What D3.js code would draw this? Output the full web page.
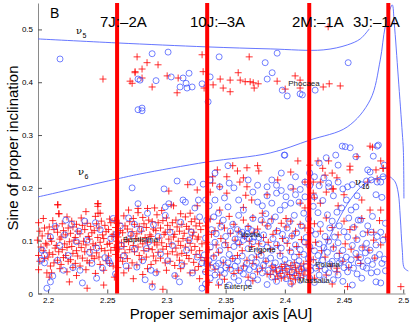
<!DOCTYPE html>
<html>
<head>
<meta charset="utf-8">
<script src="https://cdn.jsdelivr.net/npm/d3@7"></script>
<style>
  body { margin: 0; background: #fff; }
  svg { display: block; font-family: "Liberation Sans", Arial, sans-serif; }
</style>
</head>
<body>
<script>
// tick values
let xTicks = [2.2, 2.25, 2.3, 2.35, 2.4, 2.45, 2.5];
let yTicks = [0, 0.1, 0.2, 0.3, 0.4, 0.5];

// mean motion resonances (proper a in AU)
let resonanceNames = ["7J:\u20132A", "10J:\u20133A", "2M:\u20131A", "3J:\u20131A"];
let resonanceA = [2.2583, 2.3344, 2.4206, 2.4874];
let resonanceLabelA = [2.2439, 2.3199, 2.4060, 2.4576];

// secular resonances, [a, sin i]
let nu5 = [[2.1915,.482],[2.2583,.4744],[2.3344,.4669],[2.3876,.4631],[2.4324,.4612],[2.4527,.4706],[2.4637,.482],[2.4713,.501]];
let nu6 = [[2.1915,.1828],[2.2583,.2169],[2.2777,.2263],[2.3344,.2491],[2.3876,.2661],[2.4214,.2907],[2.4527,.3153],[2.4721,.3665],[2.4806,.4422],[2.4848,.5047],[2.4907,.5464],[2.4924,.5123],[2.4958,.41],[2.4992,.304],[2.5001,.2718],[2.5006,.18]];
let nu16 = [[2.4282,.0597],[2.4442,.1354],[2.4552,.1771],[2.4662,.2055],[2.478,.2188],[2.4865,.2225],[2.489,.2206],[2.4932,.2112],[2.4958,.1903],[2.4975,.1449],[2.4992,.0824],[2.5009,.0483],[2.5043,.0426]];
let nuNames = ["5", "6", "16"];
let nuLabelA = [2.2236, 2.2253, 2.4593];
let nuLabelS = [.4915, .2244, .2055];

// asteroid families
let familyNames = ["Phocaea", "Vesta", "Erigone", "Baptistina", "Euterpe", "Polana", "Massalia"];
let familyA = [2.4028, 2.3623, 2.369, 2.2634, 2.3487, 2.4256, 2.4113];
let familyS = [.393, .107, .0786, .0975, .0085, .0502, .0199];

// red crosses [a, sin i]
let redCross = [
[2.192,.134],[2.193,.118],[2.191,.101],[2.194,.088],[2.192,.072],[2.193,.061],[2.192,.045],
[2.196,.142],[2.197,.124],[2.195,.109],[2.198,.095],[2.196,.081],[2.197,.066],[2.199,.039],
[2.201,.126],[2.200,.113],[2.202,.104],[2.199,.092],[2.201,.077],[2.200,.069],[2.202,.052],[2.201,.031],
[2.204,.138],[2.205,.121],[2.203,.099],[2.206,.086],[2.204,.074],[2.205,.058],[2.203,.039],
[2.209,.151],[2.207,.128],[2.208,.116],[2.210,.103],[2.207,.091],[2.209,.079],[2.208,.063],[2.210,.047],[2.208,.168],
[2.212,.132],[2.213,.119],[2.211,.107],[2.214,.094],[2.212,.083],[2.213,.068],[2.211,.055],[2.218,.022],
[2.216,.145],[2.217,.124],[2.215,.111],[2.218,.098],[2.216,.087],[2.215,.072],[2.217,.061],[2.216,.041],
[2.220,.137],[2.221,.126],[2.219,.114],[2.222,.101],[2.220,.089],[2.221,.076],[2.219,.064],[2.221,.049],
[2.224,.131],[2.225,.118],[2.223,.106],[2.226,.095],[2.224,.081],[2.225,.071],[2.223,.057],[2.224,.034],
[2.228,.143],[2.229,.129],[2.227,.113],[2.230,.099],[2.228,.087],[2.229,.067],[2.227,.052],[2.233,.010],
[2.232,.155],[2.233,.133],[2.231,.121],[2.234,.108],[2.232,.092],[2.231,.079],[2.233,.062],[2.232,.045],
[2.236,.127],[2.237,.115],[2.235,.103],[2.238,.094],[2.236,.083],[2.237,.071],[2.235,.058],
[2.240,.146],[2.241,.132],[2.239,.119],[2.242,.106],[2.240,.091],[2.241,.077],[2.239,.066],[2.240,.038],
[2.244,.152],[2.245,.137],[2.243,.124],[2.246,.111],[2.244,.097],[2.245,.085],[2.243,.069],[2.244,.055],[2.242,.170],[2.242,.165],
[2.248,.129],[2.249,.117],[2.247,.104],[2.250,.093],[2.248,.081],[2.249,.062],[2.247,.044],[2.247,.016],
[2.252,.141],[2.253,.134],[2.251,.121],[2.254,.108],[2.252,.095],[2.253,.082],[2.251,.071],[2.252,.057],
[2.256,.138],[2.257,.125],[2.255,.112],[2.258,.099],[2.256,.087],[2.257,.074],[2.255,.052],[2.256,.031],
[2.260,.133],[2.261,.119],[2.259,.107],[2.262,.096],[2.260,.084],[2.261,.068],[2.259,.049],
[2.264,.147],[2.265,.128],[2.263,.115],[2.266,.102],[2.264,.089],[2.265,.077],[2.263,.061],[2.264,.039],
[2.268,.158],[2.269,.136],[2.267,.122],[2.270,.109],[2.268,.098],[2.269,.083],[2.267,.066],[2.268,.048],
[2.272,.142],[2.273,.131],[2.271,.117],[2.274,.104],[2.272,.091],[2.273,.079],[2.271,.058],[2.272,.028],
[2.276,.153],[2.277,.127],[2.275,.113],[2.278,.101],[2.276,.088],[2.277,.072],[2.275,.054],[2.276,.161],
[2.280,.144],[2.281,.132],[2.279,.118],[2.282,.106],[2.280,.094],[2.281,.081],[2.279,.064],[2.280,.036],
[2.284,.161],[2.285,.139],[2.283,.125],[2.286,.111],[2.284,.097],[2.285,.085],[2.283,.069],[2.284,.047],
[2.288,.136],[2.289,.122],[2.287,.108],[2.290,.096],[2.288,.083],[2.289,.071],[2.287,.055],[2.288,.018],
[2.292,.149],[2.293,.134],[2.291,.119],[2.294,.105],[2.292,.092],[2.293,.078],[2.291,.062],[2.292,.041],
[2.296,.157],[2.297,.138],[2.295,.124],[2.298,.112],[2.296,.096],[2.297,.084],[2.295,.067],[2.297,.008],
[2.300,.143],[2.301,.129],[2.299,.116],[2.302,.103],[2.300,.089],[2.301,.075],[2.299,.058],[2.300,.044],
[2.304,.168],[2.305,.134],[2.303,.121],[2.306,.107],[2.304,.094],[2.305,.079],[2.303,.061],
[2.308,.139],[2.309,.126],[2.307,.112],[2.310,.099],[2.308,.086],[2.309,.073],[2.307,.053],[2.308,.033],
[2.312,.151],[2.313,.131],[2.311,.118],[2.314,.104],[2.312,.091],[2.313,.076],[2.311,.063],[2.312,.047],
[2.316,.145],[2.317,.127],[2.315,.114],[2.318,.101],[2.316,.088],[2.317,.072],[2.315,.056],
[2.320,.152],[2.321,.136],[2.319,.122],[2.322,.109],[2.320,.095],[2.321,.082],[2.319,.066],[2.320,.039],
[2.324,.141],[2.325,.128],[2.323,.116],[2.326,.103],[2.324,.089],[2.325,.074],[2.323,.059],[2.324,.044],
[2.328,.133],[2.329,.121],[2.327,.107],[2.330,.094],[2.328,.081],[2.329,.068],[2.327,.051],[2.328,.028],
[2.333,.128],[2.334,.097],[2.332,.062],[2.333,.041],
[2.337,.141],[2.338,.112],[2.336,.083],[2.337,.054],[2.336,.021],
[2.341,.119],[2.342,.092],[2.340,.071],[2.341,.046],
[2.345,.133],[2.346,.104],[2.344,.078],[2.345,.035],[2.345,.158],
[2.349,.124],[2.350,.096],[2.348,.058],[2.349,.027],
[2.353,.146],[2.354,.114],[2.352,.087],[2.353,.049],
[2.357,.131],[2.358,.101],[2.356,.066],[2.357,.038],[2.344,.016],
[2.361,.118],[2.362,.093],[2.360,.072],[2.361,.044],
[2.365,.139],[2.366,.108],[2.364,.081],[2.365,.052],[2.365,.163],
[2.369,.127],[2.370,.099],[2.368,.063],[2.369,.031],
[2.373,.144],[2.374,.116],[2.372,.089],[2.373,.057],[2.373,.024],
[2.377,.122],[2.378,.094],[2.376,.069],[2.377,.041],
[2.381,.135],[2.382,.106],[2.380,.078],[2.381,.048],[2.381,.152],
[2.385,.128],[2.386,.097],[2.384,.061],[2.385,.037],
[2.389,.141],[2.390,.112],[2.388,.084],[2.389,.052],[2.390,.043],[2.388,.036],
[2.393,.119],[2.394,.091],[2.392,.049],[2.393,.041],[2.394,.033],[2.392,.027],
[2.397,.133],[2.398,.104],[2.396,.076],[2.397,.051],[2.398,.044],[2.396,.038],[2.397,.029],
[2.401,.126],[2.402,.095],[2.400,.055],[2.401,.047],[2.402,.039],[2.400,.031],[2.401,.142],
[2.405,.137],[2.406,.109],[2.404,.082],[2.405,.053],[2.406,.045],[2.404,.036],[2.405,.028],[2.406,.018],
[2.409,.118],[2.410,.089],[2.408,.058],[2.409,.049],[2.410,.041],[2.408,.034],[2.409,.026],
[2.413,.131],[2.414,.102],[2.412,.074],[2.413,.052],[2.414,.046],[2.412,.038],[2.413,.030],
[2.417,.124],[2.418,.093],[2.416,.056],[2.417,.043],[2.416,.035],[2.417,.162],
[2.421,.115],[2.422,.085],[2.420,.061],[2.421,.048],
[2.425,.132],[2.426,.097],[2.424,.064],[2.425,.029],[2.425,.181],
[2.430,.118],[2.431,.081],[2.429,.047],[2.430,.211],[2.430,.171],
[2.435,.143],[2.436,.102],[2.434,.069],[2.435,.035],[2.435,.192],
[2.440,.125],[2.441,.088],[2.439,.052],[2.440,.018],[2.440,.228],[2.440,.198],
[2.445,.111],[2.446,.076],[2.444,.041],[2.445,.166],
[2.450,.137],[2.451,.094],[2.449,.061],[2.453,.013],[2.450,.187],
[2.455,.121],[2.456,.084],[2.454,.049],[2.455,.234],[2.455,.241],
[2.460,.105],[2.461,.069],[2.459,.126],
[2.465,.142],[2.466,.088],[2.464,.057],[2.465,.177],
[2.470,.116],[2.471,.082],[2.472,.158],[2.470,.211],
[2.475,.101],[2.476,.067],[2.475,.116],[2.477,.234],
[2.480,.138],[2.481,.158],[2.481,.092],[2.481,.251],
[2.485,.107],[2.483,.237],[2.498,.013],
[2.318,.206],[2.326,.196],[2.326,.166],[2.302,.194],[2.306,.166],[2.290,.162],[2.337,.192],[2.339,.209],
[2.339,.221],[2.343,.234],[2.345,.202],[2.351,.221],[2.351,.190],[2.356,.242],[2.360,.232],[2.362,.211],
[2.365,.219],[2.367,.186],[2.368,.238],[2.368,.202],[2.372,.177],[2.377,.242],[2.378,.232],[2.385,.187],
[2.394,.215],[2.405,.230],[2.407,.198],[2.411,.251],[2.413,.171],[2.417,.211],[2.421,.243],[2.424,.190],
[2.424,.211],[2.428,.251],[2.432,.237],[2.434,.224],[2.437,.251],[2.441,.198],[2.444,.219],[2.461,.259],
[2.474,.277],[2.478,.217],[2.483,.237],[2.462,.069],[2.444,.048],[2.472,.279],[2.2093,.151],[2.2422,.152],
[2.2084,.168],[2.2422,.170],
[2.2464,.406],[2.2693,.402],[2.2710,.398],[2.2735,.418],[2.2752,.448],[2.2836,.437],[2.2929,.433],[2.2735,.42],
[2.2794,.425],[2.2794,.408],[2.2879,.391],[2.3006,.412],[2.3099,.408],[2.309,.38],[2.3301,.452],[2.331,.42],
[2.3318,.389],[2.3394,.395],[2.3454,.406],[2.3479,.389],[2.3538,.404],[2.3538,.382],[2.3606,.418],[2.3623,.404],
[2.3665,.401],[2.3707,.401],[2.3733,.399],[2.3699,.448],[2.3775,.397],[2.3741,.389],[2.4366,.505],[2.3935,.402],
[2.4087,.412],[2.4129,.404],[2.4003,.387],[2.4129,.389],[2.4324,.391],[2.4375,.397],[2.4468,.393]
];

// blue circles [a, sin i]
let blueCircle = [
[2.195,.082],[2.194,.063],[2.197,.058],[2.199,.010],[2.197,.073],[2.202,.107],[2.202,.022],[2.204,.033],
[2.206,.127],[2.208,.063],[2.210,.091],[2.214,.111],[2.213,.044],[2.217,.072],[2.220,.131],[2.221,.049],
[2.224,.098],[2.227,.044],[2.229,.020],[2.231,.137],[2.233,.101],[2.235,.078],[2.237,.057],[2.240,.134],
[2.241,.086],[2.241,.029],[2.244,.121],[2.246,.048],[2.248,.068],[2.251,.063],[2.252,.058],[2.253,.104],
[2.255,.142],[2.257,.037],[2.261,.128],[2.262,.091],[2.264,.071],[2.266,.052],[2.268,.143],[2.270,.112],
[2.271,.200],[2.273,.084],[2.275,.050],[2.276,.170],[2.278,.121],[2.280,.062],[2.282,.026],[2.284,.152],
[2.285,.098],[2.287,.044],[2.289,.130],[2.288,.012],[2.291,.039],[2.293,.108],[2.295,.075],[2.298,.198],
[2.299,.148],[2.299,.164],[2.301,.062],[2.303,.116],[2.302,.170],[2.305,.091],[2.307,.034],[2.309,.213],
[2.311,.022],[2.312,.135],[2.313,.054],[2.314,.177],[2.316,.173],[2.317,.082],[2.319,.101],[2.321,.116],
[2.322,.039],[2.322,.211],[2.324,.162],[2.326,.069],[2.327,.177],[2.328,.145],[2.330,.058],[2.330,.010],
[2.331,.207],[2.273,.131],[2.258,.113],[2.226,.118],[2.215,.139],[2.283,.085],
[2.333,.018],[2.333,.041],[2.334,.056],[2.332,.073],[2.333,.105],[2.334,.139],[2.333,.177],
[2.337,.029],[2.338,.048],[2.336,.062],[2.337,.088],[2.338,.121],[2.336,.166],[2.337,.215],
[2.341,.035],[2.342,.052],[2.340,.068],[2.341,.097],[2.342,.113],[2.340,.145],[2.341,.177],[2.341,.228],
[2.345,.022],[2.346,.044],[2.344,.057],[2.345,.081],[2.346,.126],[2.344,.152],[2.345,.202],
[2.349,.038],[2.350,.049],[2.348,.064],[2.349,.092],[2.350,.108],[2.348,.139],[2.349,.181],
[2.353,.016],[2.354,.046],[2.352,.058],[2.353,.074],[2.354,.118],[2.352,.164],[2.353,.209],[2.352,.242],
[2.357,.031],[2.358,.052],[2.356,.066],[2.357,.089],[2.358,.103],[2.356,.131],[2.357,.200],
[2.361,.024],[2.362,.043],[2.360,.061],[2.361,.096],[2.362,.112],[2.360,.121],[2.361,.148],[2.361,.177],
[2.365,.037],[2.366,.049],[2.364,.071],[2.365,.101],[2.366,.109],[2.364,.116],[2.365,.158],
[2.369,.020],[2.370,.045],[2.368,.057],[2.369,.085],[2.370,.104],[2.368,.113],[2.369,.124],[2.369,.215],
[2.373,.033],[2.374,.051],[2.372,.068],[2.373,.098],[2.374,.107],[2.372,.119],[2.373,.142],[2.373,.192],
[2.377,.026],[2.378,.047],[2.376,.059],[2.377,.079],[2.378,.106],[2.376,.115],[2.377,.205],[2.377,.173],
[2.381,.039],[2.382,.054],[2.380,.072],[2.381,.094],[2.382,.111],[2.380,.139],[2.381,.166],
[2.385,.017],[2.386,.044],[2.384,.062],[2.385,.088],[2.386,.127],[2.384,.151],[2.385,.202],[2.385,.185],
[2.389,.031],[2.390,.050],[2.388,.067],[2.389,.082],[2.390,.104],[2.388,.137],[2.389,.171],[2.389,.215],
[2.393,.023],[2.394,.043],[2.392,.058],[2.393,.093],[2.394,.118],[2.392,.145],[2.393,.190],[2.393,.205],
[2.397,.036],[2.398,.052],[2.396,.071],[2.397,.086],[2.398,.112],[2.396,.158],[2.397,.228],[2.397,.195],
[2.401,.028],[2.402,.046],[2.400,.064],[2.401,.101],[2.402,.124],[2.400,.167],[2.401,.183],[2.400,.262],
[2.405,.019],[2.406,.041],[2.404,.057],[2.405,.079],[2.406,.109],[2.404,.136],[2.405,.201],[2.405,.171],
[2.409,.034],[2.410,.053],[2.408,.069],[2.409,.092],[2.410,.115],[2.408,.148],[2.409,.187],[2.409,.221],
[2.413,.025],[2.414,.047],[2.412,.062],[2.413,.083],[2.414,.128],[2.412,.173],[2.413,.197],
[2.417,.038],[2.418,.051],[2.416,.074],[2.417,.097],[2.418,.106],[2.416,.152],[2.417,.183],[2.417,.211],
[2.421,.029],[2.422,.044],[2.420,.066],[2.421,.089],[2.422,.119],[2.420,.141],[2.421,.204],[2.421,.228],
[2.425,.021],[2.426,.048],[2.424,.059],[2.425,.081],[2.426,.112],[2.424,.165],[2.425,.183],[2.425,.221],
[2.429,.035],[2.430,.053],[2.428,.072],[2.429,.094],[2.430,.131],[2.428,.153],[2.429,.204],[2.429,.247],
[2.433,.026],[2.434,.045],[2.432,.063],[2.433,.087],[2.434,.108],[2.432,.176],[2.433,.219],[2.435,.257],
[2.437,.039],[2.438,.056],[2.436,.078],[2.437,.099],[2.438,.124],[2.436,.149],[2.437,.202],[2.437,.209],
[2.441,.026],[2.442,.047],[2.440,.061],[2.441,.085],[2.442,.107],[2.440,.137],[2.441,.185],[2.443,.262],
[2.445,.035],[2.446,.058],[2.444,.071],[2.445,.096],[2.446,.128],[2.444,.154],[2.445,.211],[2.445,.243],
[2.449,.023],[2.450,.049],[2.448,.063],[2.449,.082],[2.450,.117],[2.448,.162],[2.449,.198],[2.4485,.279],
[2.453,.041],[2.454,.054],[2.452,.069],[2.453,.107],[2.454,.143],[2.452,.177],[2.453,.202],[2.451,.278],
[2.457,.016],[2.458,.048],[2.456,.064],[2.457,.091],[2.458,.125],[2.456,.158],[2.457,.206],[2.4552,.276],
[2.461,.037],[2.462,.058],[2.460,.076],[2.461,.102],[2.462,.139],[2.460,.164],[2.461,.185],[2.460,.259],
[2.465,.029],[2.466,.051],[2.464,.068],[2.465,.086],[2.466,.113],[2.464,.139],[2.465,.206],
[2.469,.048],[2.470,.062],[2.468,.077],[2.469,.095],[2.470,.128],[2.469,.213],[2.470,.234],
[2.473,.039],[2.474,.055],[2.472,.082],[2.473,.116],[2.474,.146],[2.473,.215],[2.472,.230],[2.4747,.260],
[2.477,.022],[2.478,.041],[2.476,.068],[2.477,.092],[2.478,.108],[2.477,.187],[2.478,.211],[2.478,.279],
[2.481,.020],[2.482,.057],[2.480,.074],[2.481,.116],[2.482,.182],[2.481,.211],[2.484,.243],
[2.485,.043],[2.484,.065],[2.483,.101],[2.485,.133],[2.483,.221],
[2.2101,.444],[2.276,.406],[2.2879,.454],[2.3014,.457],[2.2777,.404],[2.2912,.403],[2.304,.41],[2.314,.408],
[2.3191,.417],[2.3166,.398],[2.3115,.391],[2.3174,.389],[2.3217,.391],[2.3301,.397],[2.3369,.41],[2.3445,.448],
[2.3352,.363],[2.3834,.437],[2.3851,.406],[2.2794,.351],[2.3935,.455],[2.4535,.437],[2.3893,.418],[2.3978,.385],
[2.402,.374],[2.4129,.378],[2.4148,.376],[2.4256,.385],[2.479,.281],[2.276,.348],[2.2794,.346],[2.3995,.262]
];

let svgWidth = 415;
let svgHeight = 324;

let svg = d3.select("body")
  .append("svg")
  .attr("width", svgWidth)
  .attr("height", svgHeight);

let x = d3.scaleLinear().domain([2.1915, 2.5015]).range([38, 405]);
let y = d3.scaleLinear().domain([0, 0.55]).range([293.5, 3]);

// axes, MATLAB style inward ticks
let xAxis = d3.axisBottom(x).tickValues(xTicks).tickFormat(d => String(d))
  .tickSize(-4).tickSizeOuter(0).tickPadding(4);
let yAxis = d3.axisLeft(y).tickValues(yTicks).tickFormat(d => String(d))
  .tickSize(-4).tickSizeOuter(0).tickPadding(5);

let gx = svg.append("g").attr("transform", `translate(0, ${y(0)})`).call(xAxis);
let gy = svg.append("g").attr("transform", `translate(${x.range()[0]}, 0)`).call(yAxis);
[gx, gy].forEach(g => {
  g.select(".domain").attr("stroke", "#8a8a8a");
  g.selectAll(".tick line").attr("stroke", "#555");
  g.selectAll(".tick text").attr("font-size", 8).attr("fill", "#000")
    .attr("font-family", "Liberation Sans, Arial, sans-serif");
});

// points
svg.append("g").selectAll("path")
  .data(redCross)
  .enter()
  .append("path")
  .attr("d", "M-3.5,0H3.5M0,-3.5V3.5")
  .attr("transform", d => `translate(${x(d[0])},${y(d[1])})`)
  .attr("stroke", "#ff0000")
  .attr("stroke-opacity", 0.9)
  .attr("stroke-width", 0.9)
  .attr("fill", "none");

svg.append("g").selectAll("circle")
  .data(blueCircle)
  .enter()
  .append("circle")
  .attr("cx", d => x(d[0]))
  .attr("cy", d => y(d[1]))
  .attr("r", 3)
  .attr("fill", "none")
  .attr("stroke", "#3c50ff")
  .attr("stroke-opacity", 0.85)
  .attr("stroke-width", 0.85);

// secular resonance curves
let drawLine = d3.line()
  .x(d => x(d[0]))
  .y(d => y(d[1]))
  .curve(d3.curveCatmullRom.alpha(0.5));

[nu5, nu6, nu16].forEach(c => {
  svg.append("path")
    .attr("d", drawLine(c))
    .attr("fill", "none")
    .attr("stroke", "#5566ff")
    .attr("stroke-width", 0.9);
});

// mean motion resonances
svg.append("g").selectAll("line")
  .data(resonanceA)
  .enter()
  .append("line")
  .attr("x1", d => x(d))
  .attr("x2", d => x(d))
  .attr("y1", y(0.55))
  .attr("y2", y(0))
  .attr("stroke", "#ff0000")
  .attr("stroke-width", 4);

svg.append("g").selectAll("text")
  .data(resonanceNames)
  .enter()
  .append("text")
  .attr("x", (d, i) => x(resonanceLabelA[i]))
  .attr("y", y(0.5047))
  .attr("font-size", 15)
  .text(d => d);

// nu labels
nuNames.forEach((n, i) => {
  let t = svg.append("text")
    .attr("x", x(nuLabelA[i]))
    .attr("y", y(nuLabelS[i]))
    .attr("font-size", 10)
    .attr("font-family", "DejaVu Serif, serif");
  t.append("tspan").text("\u03bd");
  t.append("tspan").attr("dy", 4).attr("dx", 0.5).attr("font-size", 7)
    .attr("font-family", "Liberation Sans, Arial, sans-serif").text(n);
});

// family names
svg.append("g").selectAll("text")
  .data(familyNames)
  .enter()
  .append("text")
  .attr("x", (d, i) => x(familyA[i]))
  .attr("y", (d, i) => y(familyS[i]))
  .attr("font-size", 8)
  .attr("fill", "#222")
  .text(d => d);

// panel letter
svg.append("text")
  .attr("x", x(2.2016))
  .attr("y", y(0.522))
  .attr("font-size", 14)
  .text("B");

// axis titles
svg.append("text")
  .attr("x", 221)
  .attr("y", 319)
  .attr("text-anchor", "middle")
  .attr("font-size", 15)
  .text("Proper semimajor axis [AU]");

svg.append("text")
  .attr("transform", "translate(18, 148) rotate(-90)")
  .attr("text-anchor", "middle")
  .attr("font-size", 15)
  .text("Sine of proper inclination");
</script>
</body>
</html>
